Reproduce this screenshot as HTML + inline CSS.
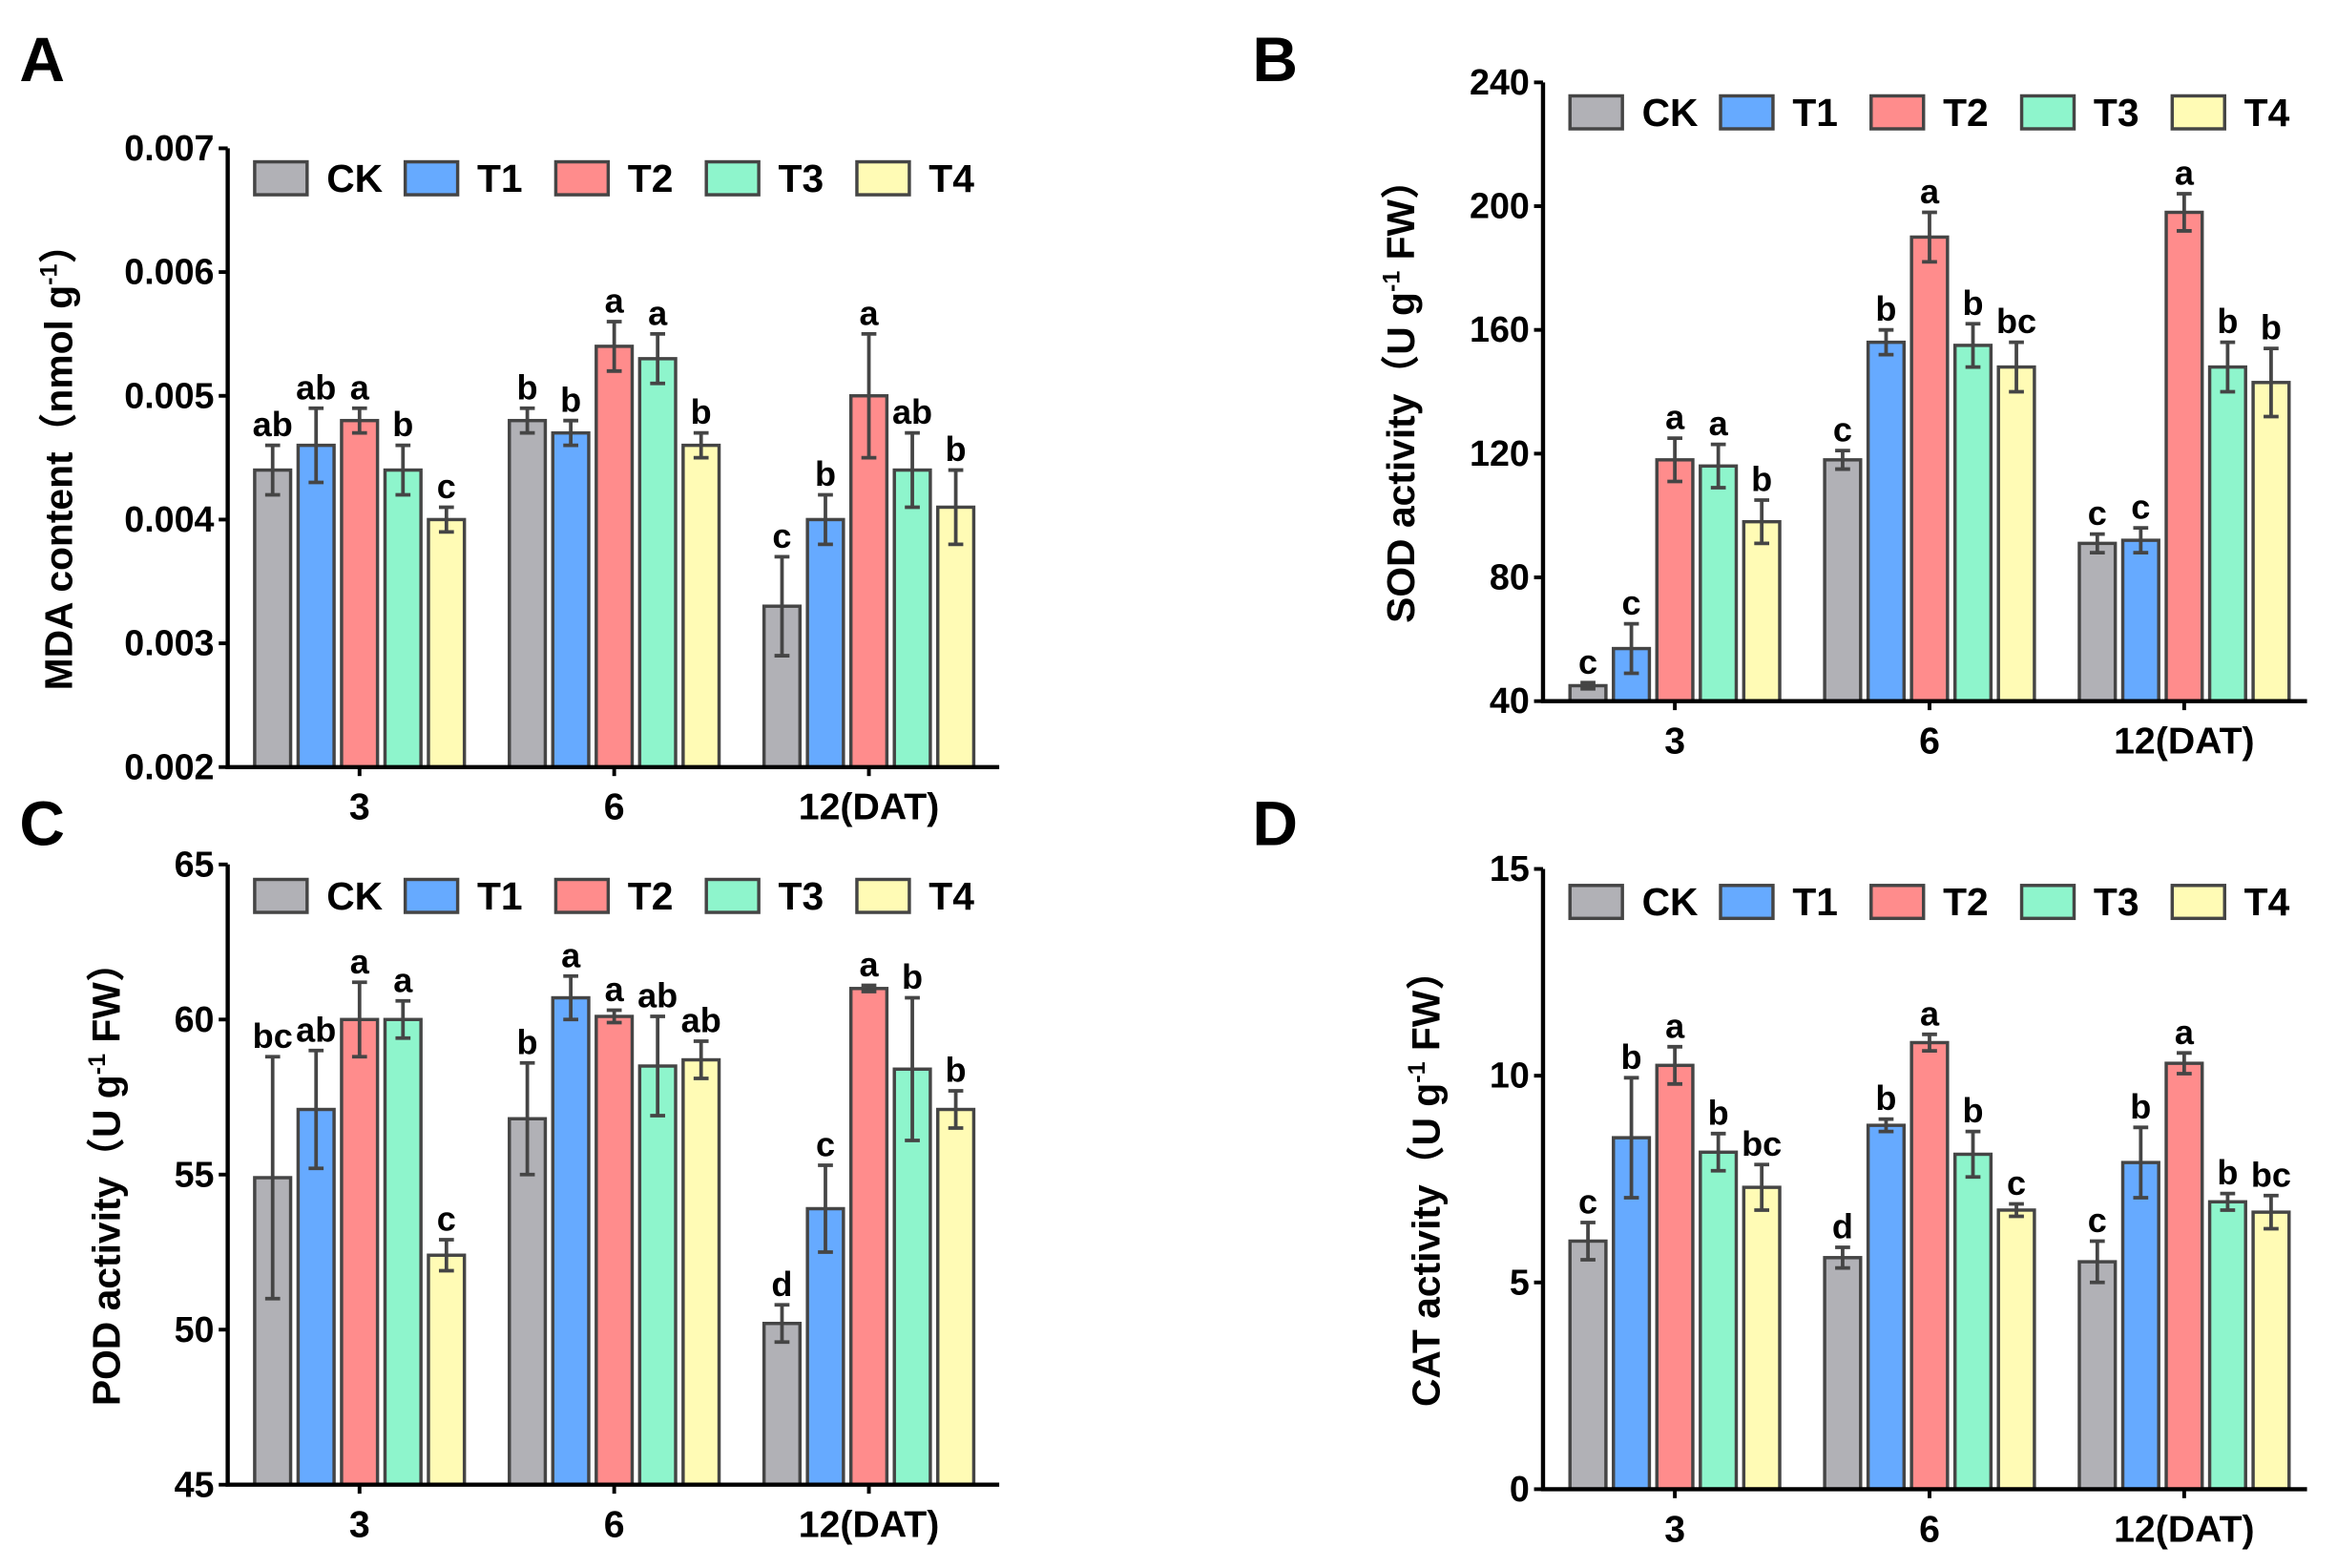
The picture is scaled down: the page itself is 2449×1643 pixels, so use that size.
<!DOCTYPE html>
<html><head><meta charset="utf-8">
<style>
html,body{margin:0;padding:0;background:#fff;}
svg{display:block;}
text{font-family:"Liberation Sans","Noto Sans CJK SC",sans-serif;font-weight:bold;fill:#000;}
.nar{font-family:"Liberation Sans Narrow","Liberation Sans",sans-serif;}
</style></head>
<body>
<svg id="fig" width="2449" height="1643" viewBox="0 0 1560 1046.6" preserveAspectRatio="none" xmlns="http://www.w3.org/2000/svg"></svg>
<script>
const groups = ["3","6","12(DAT)"];
const series = ["CK","T1","T2","T3","T4"];
const colors = ["#b1b1b6","#66aaff","#ff8c8c","#8ef5cc","#fffbb5"];

// Panel A: MDA
const aCK=[0.0044,0.0048,0.0033], aT1=[0.0046,0.0047,0.0040], aT2=[0.0048,0.0054,0.0050], aT3=[0.0044,0.0053,0.0044], aT4=[0.0040,0.0046,0.0041];
const aErr=[[0.0002,0.0001,0.0004],[0.0003,0.0001,0.0002],[0.0001,0.0002,0.0005],[0.0002,0.0002,0.0003],[0.0001,0.0001,0.0003]];
const aLet=[["ab","b","c"],["ab","b","b"],["a","a","a"],["b","a","ab"],["c","b","b"]];
const aTicks=["0.002","0.003","0.004","0.005","0.006","0.007"];
// Panel B: SOD
const bCK=[45,118,91], bT1=[57,156,92], bT2=[118,190,198], bT3=[116,155,148], bT4=[98,148,143];
const bErr=[[1,3,3],[8,4,4],[7,8,6],[7,7,8],[7,8,11]];
const bLet=[["c","c","c"],["c","b","c"],["a","a","a"],["a","b","b"],["b","bc","b"]];
const bTicks=["40","80","120","160","200","240"];
// Panel C: POD
const cCK=[54.9,56.8,50.2], cT1=[57.1,60.7,53.9], cT2=[60.0,60.1,61.0], cT3=[60.0,58.5,58.4], cT4=[52.4,58.7,57.1];
const cErr=[[3.9,1.8,0.6],[1.9,0.7,1.4],[1.2,0.2,0.1],[0.6,1.6,2.3],[0.5,0.6,0.6]];
const cLet=[["bc","b","d"],["ab","a","c"],["a","a","a"],["a","ab","b"],["c","ab","b"]];
const cTicks=["45","50","55","60","65"];
// Panel D: CAT
const dCK=[6.0,5.6,5.5], dT1=[8.5,8.8,7.9], dT2=[10.25,10.8,10.3], dT3=[8.15,8.1,6.95], dT4=[7.3,6.75,6.7];
const dErr=[[0.45,0.25,0.5],[1.45,0.15,0.85],[0.45,0.2,0.25],[0.45,0.55,0.2],[0.55,0.15,0.4]];
const dLet=[["c","d","c"],["b","b","b"],["a","a","a"],["b","b","b"],["bc","c","bc"]];
const dTicks=["0","5","10","15"];

const NS="http://www.w3.org/2000/svg";
const svg=document.getElementById('fig');
function mk(tag,attrs,parent){const e=document.createElementNS(NS,tag);for(const k in attrs)e.setAttribute(k,attrs[k]);(parent||svg).appendChild(e);return e;}

function panel(cfg){
  const g=mk('g',{});
  
  
  const ticks=cfg.ticks.map(Number);
  const ymin=ticks[0], ymax=ticks[ticks.length-1];
  const y=v=>cfg.bottom-(v-ymin)/(ymax-ymin)*(cfg.bottom-cfg.top);
  const groupX=i=>cfg.gx0+i*170;
  const barX=(i,s)=>groupX(i)+(s-2)*29;
  const bw=24;
  const L=mk('text',{x:cfg.lx,y:cfg.ly,'font-size':42},g); L.textContent=cfg.letter;
  
  
  cfg.vals.forEach((arr,s)=>{
    arr.forEach((v,i)=>{
      const cx=barX(i,s);
      const r=mk('rect',{x:cx-bw/2,y:y(v),width:bw,height:cfg.bottom-y(v),fill:colors[s],stroke:'#454545','stroke-width':2.2},g);
      
      
      const e=cfg.err[s][i];
      const eb=mk('path',{d:`M${cx},${y(v+e)}V${y(v-e)}M${cx-5},${y(v+e)}H${cx+5}M${cx-5},${y(v-e)}H${cx+5}`,stroke:'#454545','stroke-width':2.4,fill:'none'},g);
      
      
      const t=mk('text',{x:cx,y:y(v+e)-6,'text-anchor':'middle','font-size':23,class:'nar'},g);
      t.textContent=cfg.lets[s][i];
      
      
    });
  });
  const ax=mk('path',{d:`M${cfg.ax},${cfg.top}V${cfg.bottom}H${cfg.xend}`,stroke:'#000','stroke-width':2.8,fill:'none'},g);
  
  
  cfg.ticks.forEach(tl=>{
    const yy=y(Number(tl));
    mk('path',{d:`M${cfg.ax-6},${yy}H${cfg.ax}`,stroke:'#000','stroke-width':2.5},g);
    const t=mk('text',{x:cfg.ax-9,y:yy+8,'text-anchor':'end','font-size':24,class:'nar'},g);
    t.textContent=tl;
    
    
  });
  groups.forEach((gn,i)=>{
    const xx=groupX(i);
    mk('path',{d:`M${xx},${cfg.bottom}V${cfg.bottom+6}`,stroke:'#000','stroke-width':2.5},g);
    const t=mk('text',{x:xx,y:cfg.bottom+35,'text-anchor':'middle','font-size':25,class:'nar'},g);
    t.textContent=gn;
    
    
  });
  const yt=mk('text',{x:0,y:0,transform:`translate(${cfg.ytx},${(cfg.top+cfg.bottom)/2}) rotate(-90)`,'text-anchor':'middle','font-size':26},g);
  yt.innerHTML=cfg.ytitle;
  
  
  const lg=mk('g',{},g);
  
  
  series.forEach((sn,s)=>{
    const x0=cfg.legx+s*100.5;
    const r=mk('rect',{x:x0,y:cfg.legy-11,width:35,height:22,fill:colors[s],stroke:'#454545','stroke-width':2.2},lg);
    
    
    const t=mk('text',{x:x0+48,y:cfg.legy+9,'font-size':26,class:'nar'},lg);
    t.textContent=sn;
    
    
  });
}

panel({name:'panel-a-mda',letter:'A',lx:13,ly:54,ticks:aTicks,top:99,bottom:512,ax:152,xend:667,gx0:240,
  vals:[aCK,aT1,aT2,aT3,aT4],err:aErr,lets:aLet,ytx:48,legx:170,legy:119,
  ytitle:'MDA content（nmol g<tspan dy="-10" font-size="16">-1</tspan><tspan dy="10">）</tspan>'});
panel({name:'panel-b-sod',letter:'B',lx:836,ly:54,ticks:bTicks,top:55,bottom:468,ax:1030,xend:1540,gx0:1118,
  vals:[bCK,bT1,bT2,bT3,bT4],err:bErr,lets:bLet,ytx:944,legx:1048,legy:75,
  ytitle:'SOD activity（U g<tspan dy="-10" font-size="16">-1</tspan><tspan dy="10"> FW）</tspan>'});
panel({name:'panel-c-pod',letter:'C',lx:13,ly:564,ticks:cTicks,top:577,bottom:991,ax:152,xend:667,gx0:240,
  vals:[cCK,cT1,cT2,cT3,cT4],err:cErr,lets:cLet,ytx:80,legx:170,legy:598,
  ytitle:'POD activity（U g<tspan dy="-10" font-size="16">-1</tspan><tspan dy="10"> FW）</tspan>'});
panel({name:'panel-d-cat',letter:'D',lx:836,ly:564,ticks:dTicks,top:580,bottom:994,ax:1030,xend:1540,gx0:1118,
  vals:[dCK,dT1,dT2,dT3,dT4],err:dErr,lets:dLet,ytx:961,legx:1048,legy:602,
  ytitle:'CAT activity（U g<tspan dy="-10" font-size="16">-1</tspan><tspan dy="10"> FW）</tspan>'});
</script>
</body></html>
